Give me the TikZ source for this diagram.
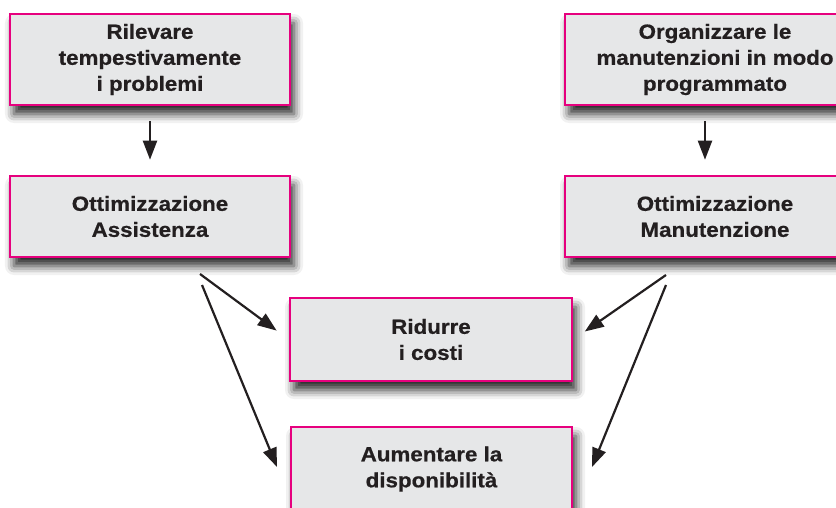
\documentclass[tikz,border=0pt]{standalone}
\usepackage{fontspec}
\setmainfont[FakeStretch=1.09,FakeBold=0.6]{Liberation Sans}
\usetikzlibrary{arrows.meta,shadows.blur}
\definecolor{boxfill}{HTML}{E6E7E8}
\definecolor{boxline}{HTML}{E6007E}
\definecolor{ink}{HTML}{231F20}
\tikzset{
  goalbox/.style={draw=boxline, line width=2.6pt, fill=boxfill, text=ink,
    font=\bfseries\fontsize{20.5}{26}\selectfont, align=center, inner sep=0pt,
    blur shadow={shadow xshift=4pt, shadow yshift=-9pt, shadow blur radius=9pt, shadow opacity=85}},
  arr/.style={draw=ink, line width=2.2pt, -{Triangle[width=14pt,length=19pt]}}
}
\begin{document}
\begin{tikzpicture}[x=1pt,y=-1pt]
\useasboundingbox (0,0) rectangle (836,508);
\clip (0,0) rectangle (836,508);
\node[goalbox, minimum width=280pt, minimum height=91pt] (A1) at (150,59.5) {Rilevare\\tempestivamente\\i problemi};
\node[goalbox, minimum width=280pt, minimum height=81pt] (A2) at (150,216.5) {Ottimizzazione\\Assistenza};
\node[goalbox, minimum width=300pt, minimum height=91pt] (B1) at (715,59.5) {Organizzare le\\manutenzioni in modo\\programmato};
\node[goalbox, minimum width=300pt, minimum height=81pt] (B2) at (715,216.5) {Ottimizzazione\\Manutenzione};
\node[goalbox, minimum width=282pt, minimum height=83pt] (C) at (431,339.5) {Ridurre\\i costi};
\node[goalbox, minimum width=281pt, minimum height=84pt] (D) at (431.5,469) {Aumentare la\\disponibilità};
\coordinate (as1) at (200,274);
\coordinate (as2) at (202,285);
\coordinate (bs1) at (666,275);
\coordinate (bs2) at (666,285);
\coordinate (at2) at (277,467);
\coordinate (bt2) at (592,467);
\draw[arr, shorten <=15pt, shorten >=15pt] (A1.south -| 150,0) -- (A2.north -| 150,0);
\draw[arr, shorten <=15pt, shorten >=15pt] (B1.south -| 705,0) -- (B2.north -| 705,0);
\draw[arr, shorten >=15pt] (as1) -- (C.west);
\draw[arr] (as2) -- (at2);
\draw[arr, shorten >=14pt] (bs1) -- (C.east);
\draw[arr] (bs2) -- (bt2);
\end{tikzpicture}
\end{document}
